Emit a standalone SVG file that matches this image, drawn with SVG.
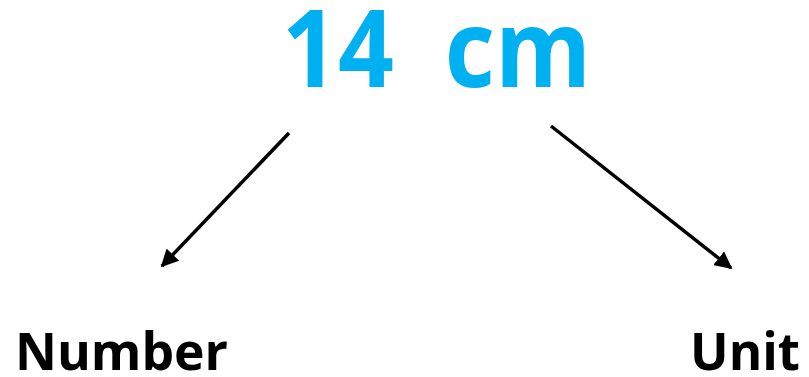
<svg xmlns="http://www.w3.org/2000/svg" width="809" height="377" viewBox="0 0 809 377">
<style>
.t{font-family:"Open Sans","Liberation Sans",sans-serif;font-weight:bold}
.c{stroke:#000;stroke-width:3.5;fill:none}
</style>
<defs>
<marker id="ah" viewBox="0 0 10 10" refX="9" refY="5" markerWidth="5" markerHeight="5" markerUnits="strokeWidth" orient="auto">
<path d="M0,0 L10,5 L0,10 z" fill="#000"/>
</marker>
</defs>
<rect width="809" height="377" fill="#fff"/>
<g id="title"><text class="t" x="282" y="87" font-size="107" fill="#00b0f0" textLength="309" lengthAdjust="spacingAndGlyphs" xml:space="preserve">14  cm</text></g>
<g id="number"><text class="t" x="15" y="370" font-size="52" fill="#000" textLength="213" lengthAdjust="spacingAndGlyphs">Number</text></g>
<g id="unit"><text class="t" x="690" y="370" font-size="52" fill="#000" textLength="110" lengthAdjust="spacingAndGlyphs">Unit</text></g>
<g id="connectors">
<line class="c" x1="289" y1="133" x2="162" y2="266" marker-end="url(#ah)"/>
<line class="c" x1="551" y1="126" x2="731" y2="268" marker-end="url(#ah)"/>
</g>
</svg>
